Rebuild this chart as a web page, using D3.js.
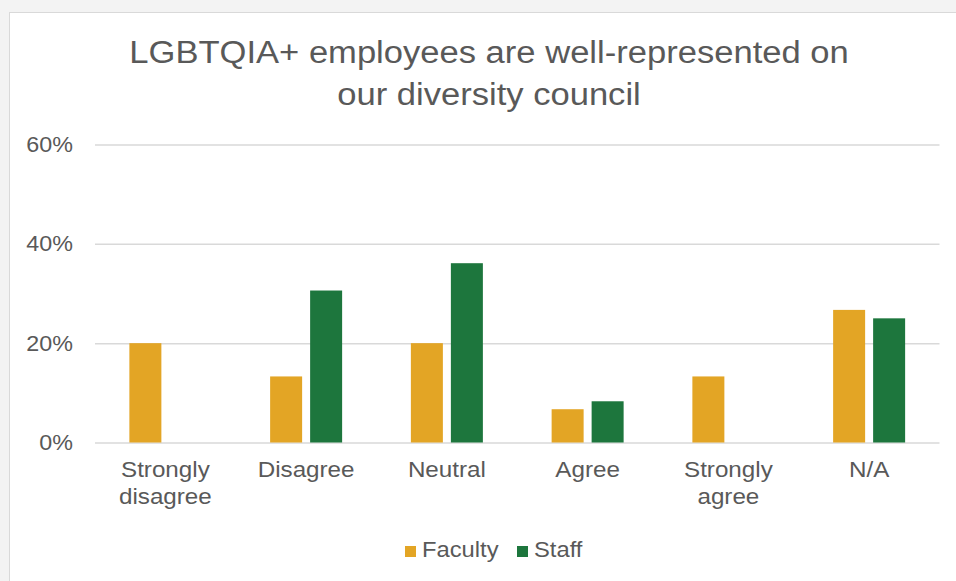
<!DOCTYPE html>
<html>
<head>
<meta charset="utf-8">
<script src="https://cdn.jsdelivr.net/npm/d3@7"></script>
<style>
    html, body { margin: 0; padding: 0; background: #f3f3f3; }
    svg { display: block; font-family: "Liberation Sans", Arial, sans-serif; }
</style>
</head>
<body>
<div id="chart"></div>
<script>
'use strict';

// survey answers, percent of respondents
var categories = [['Strongly', 'disagree'], ['Disagree'], ['Neutral'], ['Agree'], ['Strongly', 'agree'], ['N/A']];
var seriesNames = ['Faculty', 'Staff'];
var faculty = [20, 13.3, 20, 6.7, 13.3, 26.7];
var staff = [0, 30.6, 36.1, 8.3, 0, 25];
var yTicks = [0, 20, 40, 60];
var titleLines = ['LGBTQIA+ employees are well-represented on', 'our diversity council'];

var colors = { Faculty: '#e3a525', Staff: '#1d763d' },
    textColor = '#595959',
    width = 956,
    height = 581;

var svg = d3.select('#chart').append('svg')
            .attr('width', width)
            .attr('height', height);

// text in the original is a bit wider than it is tall, so stretch horizontally
function place(x, y, sx) {
    return 'translate(' + x + ',' + y + ') scale(' + sx + ',1)';
}

// chart frame
svg.append('rect')
   .attr('x', 9.5)
   .attr('y', 12.5)
   .attr('width', width + 10)
   .attr('height', height + 10)
   .attr('fill', '#ffffff')
   .attr('stroke', '#d9d9d9')
   .attr('stroke-width', 1);

var x0 = d3.scaleBand()
           .domain(d3.range(categories.length))
           .range([95, 939.5])
           .padding(0);

var x1 = d3.scaleBand()
           .domain(seriesNames)
           .range([x0.bandwidth() / 2 - 40, x0.bandwidth() / 2 + 40])
           .paddingInner(0.2)
           .paddingOuter(0.1);

var y = d3.scaleLinear()
          .domain([0, 60])
          .range([442.5, 144.5]);

// title
svg.append('text')
   .attr('transform', place(489, 63, 1.115))
   .attr('text-anchor', 'middle')
   .attr('fill', textColor)
   .style('font-size', '31px')
   .selectAll('tspan')
   .data(titleLines)
   .enter()
   .append('tspan')
   .attr('x', 0)
   .attr('dy', function (d, i) { return i === 0 ? 0 : 42; })
   .text(function (d) { return d; });

// gridlines + y labels
var yAxis = d3.axisLeft(y)
              .tickValues(yTicks)
              .tickSize(-(x0.range()[1] - x0.range()[0]))
              .tickPadding(23)
              .tickFormat(function (d) { return d + '%'; });

var gAxis = svg.append('g')
               .attr('transform', 'translate(' + x0.range()[0] + ',0)')
               .call(yAxis);

gAxis.select('.domain').remove();
gAxis.selectAll('.tick line')
     .attr('stroke', '#d9d9d9')
     .attr('stroke-width', 1.5);
gAxis.selectAll('.tick text')
     .attr('x', 0)
     .attr('transform', place(-22, 0, 1.06))
     .attr('fill', textColor)
     .style('font-size', '22px')
     .style('font-family', '"Liberation Sans", Arial, sans-serif');

// bars
var data = categories.map(function (c, i) {
    return { index: i, values: [{ key: 'Faculty', value: faculty[i] }, { key: 'Staff', value: staff[i] }] };
});

var groups = svg.selectAll('g.cat')
                .data(data)
                .enter()
                .append('g')
                .attr('class', 'cat')
                .attr('transform', function (d) { return 'translate(' + x0(d.index) + ',0)'; });

groups.selectAll('rect')
      .data(function (d) { return d.values.filter(function (v) { return v.value > 0; }); })
      .enter()
      .append('rect')
      .attr('x', function (d) { return x1(d.key); })
      .attr('y', function (d) { return y(d.value); })
      .attr('width', x1.bandwidth())
      .attr('height', function (d) { return y(0) - y(d.value); })
      .attr('fill', function (d) { return colors[d.key]; });

// category labels
svg.selectAll('text.cat-label')
   .data(categories)
   .enter()
   .append('text')
   .attr('class', 'cat-label')
   .attr('text-anchor', 'middle')
   .attr('fill', textColor)
   .style('font-size', '22px')
   .attr('transform', function (d, i) { return place(x0(i) + x0.bandwidth() / 2, 477, 1.1); })
   .selectAll('tspan')
   .data(function (d) { return d; })
   .enter()
   .append('tspan')
   .attr('x', 0)
   .attr('dy', function (t, j) { return j === 0 ? 0 : 27; })
   .text(function (t) { return t; });

// legend
var legendPos = { Faculty: 405, Staff: 517 };

var legend = svg.selectAll('g.legend')
                .data(seriesNames)
                .enter()
                .append('g')
                .attr('class', 'legend')
                .attr('transform', function (d) { return 'translate(' + legendPos[d] + ',0)'; });

legend.append('rect')
      .attr('x', 0)
      .attr('y', 546)
      .attr('width', 11)
      .attr('height', 11)
      .attr('fill', function (d) { return colors[d]; });

legend.append('text')
      .attr('transform', place(17, 557, 1.08))
      .attr('fill', textColor)
      .style('font-size', '22px')
      .text(function (d) { return d; });
</script>
</body>
</html>
